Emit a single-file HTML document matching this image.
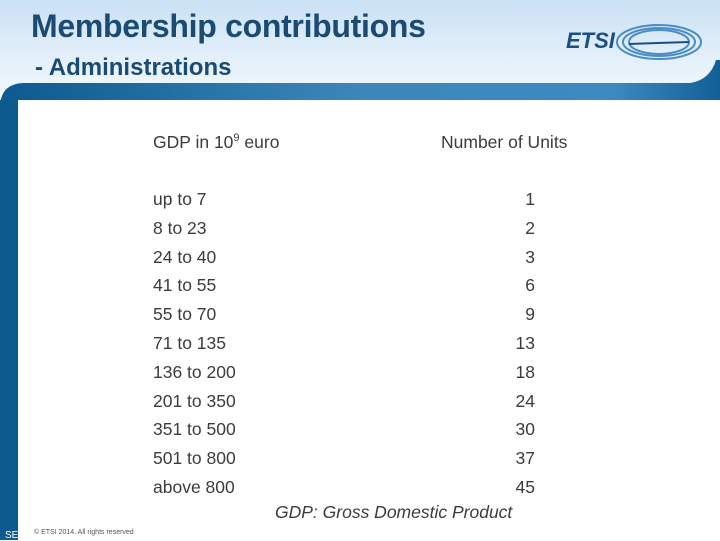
<!DOCTYPE html>
<html><head><meta charset="utf-8"><style>
body{margin:0;width:720px;height:540px;overflow:hidden;position:relative;font-family:"Liberation Sans",sans-serif;background:#fff}
.hdr{position:absolute;left:0;top:0;width:720px;height:100px;background:linear-gradient(180deg,#c9e1f4 0%,#e4f0fa 60%,#f2f8fd 100%)}
.t1{position:absolute;left:31px;top:8px;font-size:32px;font-weight:bold;color:#1b4a72;letter-spacing:-0.3px}
.t2{position:absolute;left:35px;top:54px;font-size:24px;font-weight:bold;color:#1b4a72}
.t{position:absolute;font-size:17.5px;color:#3c3c3c;line-height:20px}
.r{text-align:right;width:80px}
sup{font-size:11px;line-height:0;vertical-align:7px}
</style></head><body>
<div class="hdr"></div>
<svg style="position:absolute;left:0;top:0" width="720" height="540">
<defs><linearGradient id="g" x1="0" x2="1"><stop offset="0" stop-color="#0c5a8f"/><stop offset="0.5" stop-color="#3d86bb"/><stop offset="0.85" stop-color="#3d8ac0"/><stop offset="1" stop-color="#125f96"/></linearGradient></defs>
<path d="M0,540 L0,108 Q0,83 25,83 L690,83 Q710,80 716,60 L720,60 L720,100 L18,100 L18,540 Z" fill="url(#g)"/>
<rect x="0" y="100" width="18" height="440" fill="#0d5a8e"/>
</svg>
<div class="t1">Membership contributions</div>
<div class="t2">- Administrations</div>
<div style="position:absolute;left:566px;top:28px;">
<span style="font:italic bold 22px 'Liberation Sans',sans-serif;color:#1a4f86">ETSI</span>
<svg width="90" height="40" style="position:absolute;left:48px;top:-6px"><g fill="none" stroke="#4a8cc4" stroke-width="2"><ellipse cx="45" cy="20" rx="42" ry="17"/><ellipse cx="45" cy="20" rx="36" ry="14"/><ellipse cx="45" cy="20" rx="30" ry="12"/></g><path d="M15,22 L75,20" stroke="#1a4f86" stroke-width="2"/></svg>
</div>
<div class="t" style="left:153px;top:132px">GDP in 10<sup>9</sup> euro</div>
<div class="t" style="left:441px;top:132px">Number of Units</div>
<div id="rows"></div>
<div class="t" style="left:275px;top:502px;font-style:italic">GDP: Gross Domestic Product</div>
<div style="position:absolute;left:5px;top:530px;font-size:10px;color:#fff">SE</div>
<div style="position:absolute;left:34px;top:529px;font-size:7px;color:#555">© ETSI 2014. All rights reserved</div>
<script>
const ranges=["up to 7","8 to 23","24 to 40","41 to 55","55 to 70","71 to 135","136 to 200","201 to 350","351 to 500","501 to 800","above 800"];
const units=[1,2,3,6,9,13,18,24,30,37,45];
const c=document.getElementById('rows');
ranges.forEach((r,i)=>{
 const y=189+i*28.8;
 const a=document.createElement('div');a.className='t';a.style.left='153px';a.style.top=y+'px';a.textContent=r;
 
 
 c.appendChild(a);
 const b=document.createElement('div');b.className='t r';b.style.left='455px';b.style.top=y+'px';b.textContent=units[i];
 
 
 c.appendChild(b);
});
</script>
</body></html>
